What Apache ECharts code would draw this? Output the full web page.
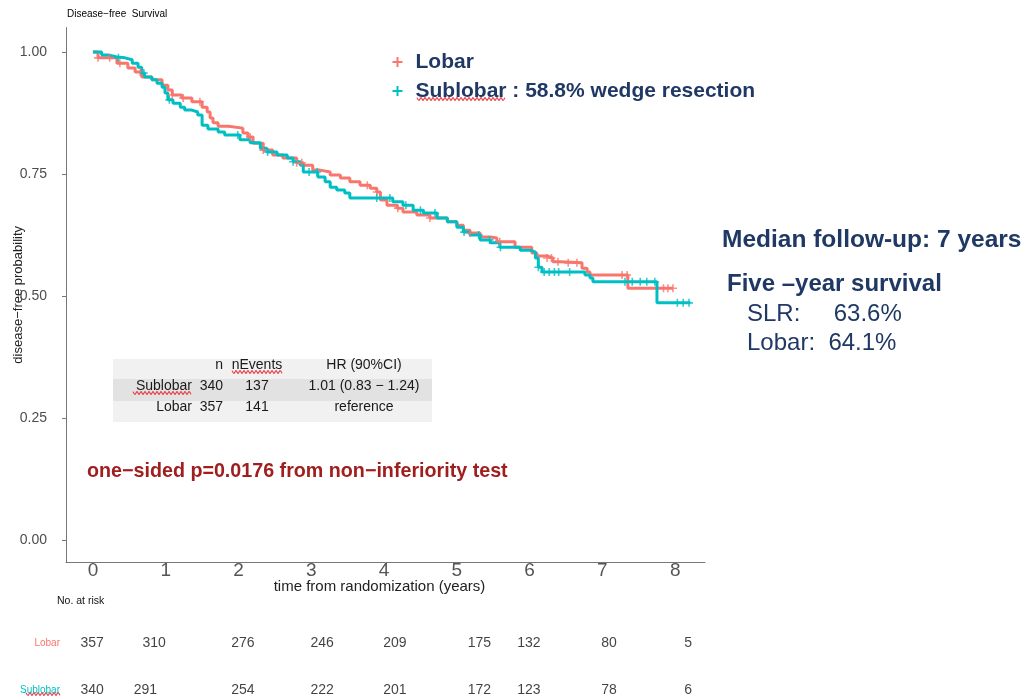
<!DOCTYPE html>
<html><head><meta charset="utf-8">
<script src="https://cdn.jsdelivr.net/npm/echarts@6/dist/echarts.min.js"></script>
<style>html,body{margin:0;padding:0;background:#fff}#c{width:1026px;height:696px}</style>
</head><body><div id="c"></div>
<script>
// ---- data ----
const seriesNames = ['Lobar', 'Sublobar : 58.8% wedge resection'];
const lobarSteps = [[0,1.0],[0.07,0.988],[0.33,0.977],[0.48,0.967],[0.58,0.959],[0.67,0.949],[0.81,0.943],[0.95,0.932],[1.03,0.922],[1.09,0.912],[1.22,0.906],[1.36,0.898],[1.50,0.887],[1.57,0.877],[1.61,0.865],[1.65,0.855],[1.72,0.848],[1.86,0.844],[2.06,0.834],[2.13,0.826],[2.20,0.813],[2.34,0.799],[2.47,0.789],[2.61,0.783],[2.80,0.773],[2.89,0.768],[3.02,0.758],[3.12,0.754],[3.26,0.748],[3.40,0.742],[3.53,0.734],[3.67,0.727],[3.81,0.721],[3.90,0.713],[3.95,0.697],[4.04,0.686],[4.18,0.680],[4.26,0.672],[4.45,0.666],[4.63,0.660],[4.87,0.652],[5.00,0.645],[5.09,0.635],[5.18,0.629],[5.32,0.621],[5.46,0.619],[5.55,0.611],[5.80,0.600],[6.03,0.588],[6.10,0.582],[6.24,0.578],[6.32,0.570],[6.42,0.568],[6.72,0.557],[6.79,0.549],[6.83,0.543],[7.35,0.516],[7.97,0.516]];
const sublobarSteps = [[0,1.0],[0.12,0.994],[0.21,0.990],[0.33,0.988],[0.44,0.984],[0.54,0.977],[0.62,0.969],[0.67,0.957],[0.71,0.949],[0.81,0.943],[0.88,0.936],[0.95,0.928],[0.99,0.916],[1.03,0.902],[1.10,0.895],[1.20,0.887],[1.26,0.881],[1.36,0.877],[1.44,0.871],[1.50,0.850],[1.58,0.842],[1.72,0.836],[1.81,0.830],[2.02,0.820],[2.16,0.814],[2.30,0.803],[2.39,0.795],[2.53,0.789],[2.67,0.783],[2.75,0.775],[2.85,0.768],[2.89,0.754],[3.09,0.744],[3.19,0.734],[3.26,0.723],[3.35,0.717],[3.46,0.711],[3.53,0.701],[4.12,0.693],[4.26,0.686],[4.40,0.676],[4.54,0.670],[4.73,0.660],[4.87,0.652],[5.00,0.641],[5.09,0.631],[5.18,0.625],[5.32,0.615],[5.46,0.609],[5.59,0.600],[5.87,0.594],[6.01,0.590],[6.08,0.578],[6.12,0.559],[6.17,0.549],[6.76,0.543],[6.83,0.537],[6.87,0.529],[7.75,0.486],[8.21,0.486]];
const lobarCensor = [0.07,0.23,0.37,0.65,1.09,1.24,1.47,2.16,2.34,2.80,2.87,3.77,3.90,4.19,4.63,5.18,5.59,6.24,6.30,6.39,6.53,6.65,7.27,7.34,7.84,7.90,7.97];
const sublobarCensor = [0.35,0.70,1.05,1.99,2.40,2.75,2.97,3.08,3.90,4.08,4.30,4.50,4.70,5.10,5.30,5.45,5.60,6.12,6.20,6.27,6.34,6.40,6.55,7.31,7.41,7.52,7.61,7.72,8.03,8.11,8.19];
const xTicks = [0,1,2,3,4,5,6,7,8];
const yTicks = [0,0.25,0.5,0.75,1.0];
const riskGroups = ['Sublobar','Lobar'];
const lobarRisk = [357,310,276,246,209,175,132,80,5];
const lobarRiskTimes = [-0.01,0.84,2.06,3.15,4.15,5.31,5.99,7.09,8.18];
const sublobarRisk = [340,291,254,222,201,172,123,78,6];
const sublobarRiskTimes = [-0.01,0.72,2.06,3.15,4.15,5.31,5.99,7.09,8.18];
const tableHeader = ['', 'n', 'nEvents', 'HR (90%CI)'];
const tableRows = [['Sublobar','340','137','1.01 (0.83 \u2212 1.24)'],['Lobar','357','141','reference']];
const pText = 'one\u2212sided p=0.0176 from non\u2212inferiority test';
const noteLines = ['Median follow-up: 7 years','Five \u2013year survival','SLR:     63.6%','Lobar:  64.1%'];

// ---- styles ----
const RED = '#F8766D', CYAN = '#00BFC4', NAVY = '#1F3864';
const SANS = '"Liberation Sans", Arial, sans-serif';
const PLUS = 'path://M4,0H6V4H10V6H6V10H4V6H0V4H4Z';

function survAt(steps, t){ let s = steps[0][1]; for (const [tt, ss] of steps){ if (tt <= t) s = ss; else break; } return s; }
function wavy(x1, x2, y){ const pts = []; let i = 0; for (let x = x1; x <= x2; x += 2, i++) pts.push([x, y + (i % 2 ? 1.4 : -1.4)]); return {type:'polyline', shape:{points:pts, smooth:0.4}, style:{stroke:'#E8353F', lineWidth:1.1, fill:null}, silent:true}; }

const chart = echarts.init(document.getElementById('c'), null, {renderer:'canvas'});

const graphics = [];
graphics.push({type:'rect', shape:{x:113,y:359,width:319,height:20}, style:{fill:'#f1f1f1'}});
graphics.push({type:'rect', shape:{x:113,y:379,width:319,height:22}, style:{fill:'#e2e2e2'}});
graphics.push({type:'rect', shape:{x:113,y:401,width:319,height:21}, style:{fill:'#f1f1f1'}});
const colX = [192, 223, 257, 364], colAlign = ['right','right','center','center'];
const rowY = [365, 386, 407];
[tableHeader].concat(tableRows).forEach((row, r) => row.forEach((cell, c) => {
  if (!cell) return;
  graphics.push({type:'text', x:colX[c], y:rowY[r], style:{text:cell, font:'14px '+SANS, fill:'#1a1a1a', textAlign:colAlign[c], textVerticalAlign:'middle'}});
}));
graphics.push(wavy(232, 282, 372));
graphics.push(wavy(133, 192, 393));
graphics.push({type:'text', x:87, y:472, style:{text:pText, font:'bold 19.7px '+SANS, fill:'#A01E1E', textVerticalAlign:'middle'}});
graphics.push(wavy(417, 506, 99));
graphics.push({type:'text', x:722, y:240, style:{text:noteLines[0], font:'bold 24.5px '+SANS, fill:NAVY, textVerticalAlign:'middle'}});
graphics.push({type:'text', x:727, y:284, style:{text:noteLines[1], font:'bold 24px '+SANS, fill:NAVY, textVerticalAlign:'middle'}});
graphics.push({type:'text', x:747, y:314, style:{text:noteLines[2], font:'24px '+SANS, fill:NAVY, textVerticalAlign:'middle'}});
graphics.push({type:'text', x:747, y:343, style:{text:noteLines[3], font:'24px '+SANS, fill:NAVY, textVerticalAlign:'middle'}});
graphics.push({type:'text', x:57, y:601, style:{text:'No. at risk', font:'10.5px '+SANS, fill:'#111', textVerticalAlign:'middle'}});
graphics.push(wavy(26, 60, 694));

const option = {
  animation:false,
  backgroundColor:'#fff',
  title:{text:'Disease\u2212free  Survival', left:67, top:9.5, padding:0, textStyle:{fontSize:10, fontWeight:'normal', color:'#000', fontFamily:SANS}},
  legend:{orient:'vertical', left:392.5, top:51.5, padding:0, itemWidth:10, itemHeight:10, itemGap:8, icon:PLUS,
    textStyle:{fontSize:21, fontWeight:'bold', color:NAVY, fontFamily:SANS, lineHeight:20, padding:[0,0,0,8]},
    data:seriesNames, selectedMode:false},
  grid:[{left:66, top:27.6, width:639, height:534.4, containLabel:false, outerBoundsMode:'none'},
        {left:66, top:619.5, width:639, height:94, containLabel:false, outerBoundsMode:'none'}],
  xAxis:[{type:'value', gridIndex:0, min:-0.37, max:8.41,
      axisLine:{show:true, onZero:false, lineStyle:{color:'#777', width:1}}, axisTick:{show:false}, splitLine:{show:false},
      axisLabel:{customValues:xTicks, margin:-1, fontSize:19, color:'#555', fontFamily:SANS},
      name:'time from randomization (years)', nameLocation:'middle', nameGap:17, nameMoveOverlap:false,
      nameTextStyle:{fontSize:15, color:'#222', fontFamily:SANS, padding:[0,12,0,0]}},
    {type:'value', gridIndex:1, min:-0.37, max:8.41, show:false}],
  yAxis:[{type:'value', gridIndex:0, min:-0.045, max:1.05,
      axisLine:{show:true, onZero:false, lineStyle:{color:'#777', width:1}},
      axisTick:{show:true, customValues:yTicks, length:4, lineStyle:{color:'#777'}}, splitLine:{show:false},
      axisLabel:{customValues:yTicks, margin:19, fontSize:14, color:'#4d4d4d', fontFamily:SANS, formatter:v => v.toFixed(2)},
      name:'disease\u2212free probability', nameLocation:'middle', nameGap:41, nameMoveOverlap:false,
      nameTextStyle:{fontSize:13, color:'#222', fontFamily:SANS}},
    {type:'category', gridIndex:1, data:riskGroups, axisLine:{show:false}, axisTick:{show:false},
      axisLabel:{margin:6, fontSize:10, fontFamily:SANS, color:(v) => v === 'Lobar' ? RED : CYAN}}],
  series:[
    {name:seriesNames[0], type:'line', step:'end', data:lobarSteps, showSymbol:false, symbol:'none', z:2,
      lineStyle:{color:RED, width:3}, itemStyle:{color:RED}},
    {name:seriesNames[1], type:'line', step:'end', data:sublobarSteps, showSymbol:false, symbol:'none', z:3,
      lineStyle:{color:CYAN, width:3}, itemStyle:{color:CYAN}},
    {name:seriesNames[0], type:'scatter', symbol:PLUS, symbolSize:8, z:4, silent:true,
      itemStyle:{color:RED}, data:lobarCensor.map(t => [t, survAt(lobarSteps, t)])},
    {name:seriesNames[1], type:'scatter', symbol:PLUS, symbolSize:8, z:5, silent:true,
      itemStyle:{color:CYAN}, data:sublobarCensor.map(t => [t, survAt(sublobarSteps, t)])},
    {type:'scatter', xAxisIndex:1, yAxisIndex:1, symbolSize:0, silent:true,
      label:{show:true, position:'inside', formatter:p => String(p.value[2]), fontSize:14, fontFamily:SANS, color:'#111'},
      data:lobarRisk.map((n,i) => [lobarRiskTimes[i], 'Lobar', n])},
    {type:'scatter', xAxisIndex:1, yAxisIndex:1, symbolSize:0, silent:true,
      label:{show:true, position:'inside', formatter:p => String(p.value[2]), fontSize:14, fontFamily:SANS, color:'#111'},
      data:sublobarRisk.map((n,i) => [sublobarRiskTimes[i], 'Sublobar', n])}
  ],
  graphic:graphics
};
chart.setOption(option);
</script></body></html>
